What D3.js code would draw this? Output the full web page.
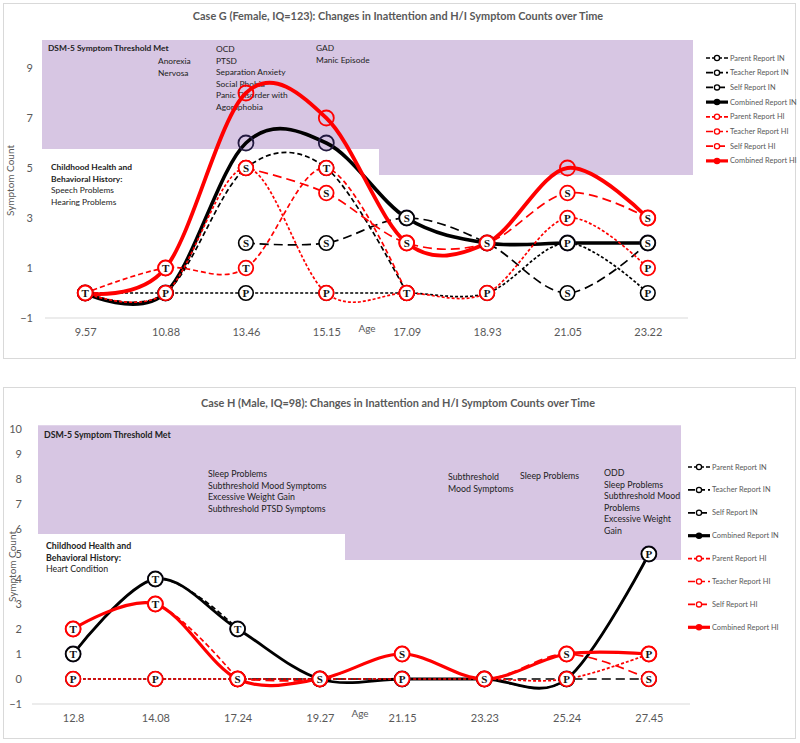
<!DOCTYPE html>
<html><head><meta charset="utf-8">
<script src="https://cdn.jsdelivr.net/npm/d3@7/dist/d3.min.js"></script>
<style>body{margin:0;background:#fff} svg{display:block}</style>
</head><body><svg id="c" width="800" height="743"></svg>
<script>
// ---------------- DATA ----------------
// Case G
const gAges = ["9.57","10.88","13.46","15.15","17.09","18.93","21.05","23.22"];
const gParentIN   = [0,0,0,0,0,0,2,0];
const gTeacherIN  = [0,0,5,5,0,null,null,null];
const gSelfIN     = [null,null,2,2,3,2,0,2];
const gCombinedIN = [0,0,6,6,3,2,2,2];
const gParentHI   = [0,0,5,0,0,0,3,1];
const gTeacherHI  = [0,1,1,5,0,null,null,null];
const gSelfHI     = [null,null,5,4,2,2,4,3];
const gCombinedHI = [0,1,8,7,2,2,5,3];
const gTicks = [-1,1,3,5,7,9];
const gTitle = "Case G (Female, IQ=123): Changes in Inattention and H/I Symptom Counts over Time";
const gDiagnoses = [
  ["Anorexia","Nervosa"],
  ["OCD","PTSD","Separation Anxiety","Social Phobia","Panic Disorder with","Agoraphobia"],
  ["GAD","Manic Episode"]
];
const gHistoryHead = ["Childhood Health and","Behavioral History:"];
const gHistory = ["Speech Problems","Hearing Problems"];

// Case H
const hAges = ["12.8","14.08","17.24","19.27","21.15","23.23","25.24","27.45"];
const hParentIN   = [0,0,0,0,0,0,0,5];
const hTeacherIN  = [1,4,2,null,null,null,null,null];
const hSelfIN     = [null,null,0,0,0,0,0,0];
const hCombinedIN = [1,4,2,0,0,0,0,5];
const hParentHI   = [0,0,0,0,0,0,0,1];
const hTeacherHI  = [2,3,0,null,null,null,null,null];
const hSelfHI     = [null,null,0,0,1,0,1,0];
const hCombinedHI = [2,3,0,0,1,0,1,1];
const hTicks = [-1,0,1,2,3,4,5,6,7,8,9,10];
const hTitle = "Case H (Male, IQ=98): Changes in Inattention and H/I Symptom Counts over Time";
const hDiagnoses = [
  ["Sleep Problems","Subthreshold Mood Symptoms","Excessive Weight Gain","Subthreshold PTSD Symptoms"],
  ["Subthreshold","Mood Symptoms"],
  ["Sleep Problems"],
  ["ODD","Sleep Problems","Subthreshold Mood","Problems","Excessive Weight","Gain"]
];
const hHistoryHead = ["Childhood Health and","Behavioral History:"];
const hHistory = ["Heart Condition"];

const thresholdLabel = "DSM-5 Symptom Threshold Met";
const seriesNames = ["Parent Report IN","Teacher Report IN","Self Report IN","Combined Report IN",
                     "Parent Report HI","Teacher Report HI","Self Report HI","Combined Report HI"];
const seriesLetters = ["P","T","S",null,"P","T","S",null];

// ---------------- STYLE ----------------
const RED="#ff0000", BLACK="#000000", NAVY="#231a40", GRAY="#595959", PURPLE="#d7c6e3";
const FONT="Lato, 'Open Sans', sans-serif";
const styleOf = i => {
  const isHI = i >= 4, k = i % 4;
  return {
    color: isHI ? RED : BLACK,
    dash: ["3,2","5,3","9,5",null][k],
    width: k === 3 ? 3.6 : 1.7
  };
};

const svg = d3.select("#c");

function panel(o){
  const g = svg.append("g");
  g.append("rect").attr("x",o.frame[0]+0.5).attr("y",o.frame[1]+0.5)
    .attr("width",o.frame[2]).attr("height",o.frame[3])
    .attr("fill","#fff").attr("stroke","#d9d9d9");

  const x = d3.scalePoint().domain(o.ages).range([o.plot.l,o.plot.r]).padding(0.5);
  const y = d3.scaleLinear().domain([-1,10]).range([o.plot.b,o.plot.t]);

  // threshold box
  const b = o.box;
  const pts = [[b.l,y(b.top)],[b.r,y(b.top)],[b.r,y(b.bottomR)],[b.step,y(b.bottomR)],
               [b.step,y(b.bottomL)],[b.l,y(b.bottomL)]];
  g.append("path").attr("d","M"+pts.map(p=>p.join(",")).join("L")+"Z").attr("fill",PURPLE);

  // baseline
  g.append("line").attr("x1",o.plot.l).attr("x2",o.plot.r)
    .attr("y1",y(-1)).attr("y2",y(-1)).attr("stroke","#d9d9d9").attr("stroke-width",1);

  // title
  g.append("text").attr("x",o.titleX).attr("y",o.titleY).attr("text-anchor","middle")
    .attr("font-family",FONT).attr("font-weight","bold").attr("font-size",10.9)
    .attr("fill",GRAY).text(o.title);

  // y axis labels
  const ya = g.append("g").attr("transform",`translate(${o.tickRight},0)`)
    .call(d3.axisLeft(y).tickValues(o.ticks).tickSize(0).tickPadding(0).tickFormat(d3.format("d")));
  ya.select(".domain").remove();
  ya.selectAll("text").attr("font-family",FONT).attr("font-size",11).attr("fill",GRAY);

  // x axis labels
  const xa = g.append("g").attr("transform",`translate(0,${y(-1)})`)
    .call(d3.axisBottom(x).tickSize(0).tickPadding(10));
  xa.select(".domain").remove();
  xa.selectAll("text").attr("font-family",FONT).attr("font-size",11).attr("fill",GRAY);

  g.append("text").attr("x",o.age[0]).attr("y",o.age[1]).attr("text-anchor","middle")
    .attr("dy","0.35em").attr("font-family",FONT).attr("font-size",10).attr("fill",GRAY).text("Age");

  g.append("text").attr("transform",`translate(${o.yTitleX},${(o.plot.t+o.plot.b)/2}) rotate(-90)`)
    .attr("text-anchor","middle").attr("dy","0.35em")
    .attr("font-family",FONT).attr("font-size",10).attr("fill",GRAY).text("Symptom Count");

  // annotations
  const ann = (x0,y0,lines,lh,fs,boldCount) => {
    const t = g.append("text").attr("font-family",FONT).attr("font-size",fs).attr("fill","#222");
    lines.forEach((s,i)=>{
      t.append("tspan").attr("x",x0).attr("y",y0+i*lh).attr("dy","0.35em")
        .attr("font-weight", i < boldCount ? "bold" : "normal").text(s);
    });
  };
  ann(o.thrPos[0],o.thrPos[1],[thresholdLabel],o.lh,o.fs,1);
  o.diagnoses.forEach((lines,i)=> ann(o.diagPos[i][0],o.diagPos[i][1],lines,o.lh,o.fs,0));
  ann(o.histPos[0],o.histPos[1],o.historyHead.concat(o.history),o.lh,o.fs,o.historyHead.length);

  // lines
  const line = d3.line().defined(d=>d.v!=null).x(d=>x(d.a)).y(d=>y(d.v))
    .curve(d3.curveCardinal.tension(0));
  o.series.forEach((vals,i)=>{
    const st = styleOf(i);
    g.append("path").datum(vals.map((v,j)=>({a:o.ages[j],v})))
      .attr("d",line).attr("fill","none").attr("stroke",st.color)
      .attr("stroke-width", i%4===3 ? o.combW[i>=4?1:0] : st.width)
      .attr("stroke-dasharray",st.dash)
      .attr("stroke-linecap","butt");
  });

  // combined markers (empty)
  [3,7].forEach(i=>{
    o.series[i].forEach((v,j)=>{
      if(v==null) return;
      g.append("circle").attr("cx",x(o.ages[j])).attr("cy",y(v)).attr("r",7.5)
        .attr("fill","none").attr("stroke", i===3 ? NAVY : RED).attr("stroke-width",1.8);
    });
  });
  // letter markers
  [0,1,2,4,5,6].forEach(i=>{
    o.series[i].forEach((v,j)=>{
      if(v==null) return;
      const cx=x(o.ages[j]), cy=y(v);
      g.append("circle").attr("cx",cx).attr("cy",cy).attr("r",7.3)
        .attr("fill","#fff").attr("stroke", i>=4 ? RED : BLACK).attr("stroke-width", i>=4?1.8:1.6);
      g.append("text").attr("x",cx).attr("y",cy).attr("dy","0.36em").attr("text-anchor","middle")
        .attr("font-family","'Liberation Serif', 'DejaVu Serif', serif").attr("font-weight","bold")
        .attr("font-size",11).attr("fill","#111").text(seriesLetters[i]);
    });
  });

  // legend
  seriesNames.forEach((name,i)=>{
    const st = styleOf(i);
    const ly = o.legend.y + i*o.legend.dy;
    const lg = g.append("g");
    lg.append("line").attr("x1",o.legend.x).attr("x2",o.legend.x+22).attr("y1",ly).attr("y2",ly)
      .attr("stroke",st.color).attr("stroke-width", i%4===3 ? 3.2 : 1.7)
      .attr("stroke-dasharray", st.dash ? (i%4===0?"4,2":i%4===1?"7,3":"7,5") : null);
    lg.append("circle").attr("cx",o.legend.x+11).attr("cy",ly).attr("r",2.6)
      .attr("fill", i%4===3 ? st.color : "#fff").attr("stroke",st.color).attr("stroke-width",1.3);
    lg.append("text").attr("x",o.legend.x+24).attr("y",ly).attr("dy","0.35em")
      .attr("font-family",FONT).attr("font-size",7.4).attr("fill",GRAY).text(name);
  });
}

panel({
  ages:gAges,
  series:[gParentIN,gTeacherIN,gSelfIN,gCombinedIN,gParentHI,gTeacherHI,gSelfHI,gCombinedHI],
  ticks:gTicks, title:gTitle, titleX:398, titleY:20,
  frame:[3,3,792,355], plot:{l:45,r:688,t:43,b:318},
  box:{l:42,step:379,r:693,top:10.12,bottomL:5.76,bottomR:4.72},
  tickRight:33, age:[367,328], yTitleX:10,
  lh:11.6, fs:8.4,
  thrPos:[48,48], diagnoses:gDiagnoses, diagPos:[[158,61],[216,49],[316,48]],
  historyHead:gHistoryHead, history:gHistory, histPos:[51,167],
  legend:{x:706,y:58,dy:14.7},
  combW:[3.6,3.8]
});

panel({
  ages:hAges,
  series:[hParentIN,hTeacherIN,hSelfIN,hCombinedIN,hParentHI,hTeacherHI,hSelfHI,hCombinedHI],
  ticks:hTicks, title:hTitle, titleX:398, titleY:407,
  frame:[3,387,792,351], plot:{l:32,r:690,t:429,b:704},
  box:{l:38,step:345,r:681,top:10.15,bottomL:5.8,bottomR:4.76},
  tickRight:22, age:[360,713], yTitleX:12,
  lh:11.6, fs:8.8,
  thrPos:[44,435], diagnoses:hDiagnoses, diagPos:[[208,474],[448,477],[520,476],[604,473]],
  historyHead:hHistoryHead, history:hHistory, histPos:[46,546],
  legend:{x:688,y:467,dy:22.9},
  combW:[2.8,3.2]
});
</script>
</body></html>
